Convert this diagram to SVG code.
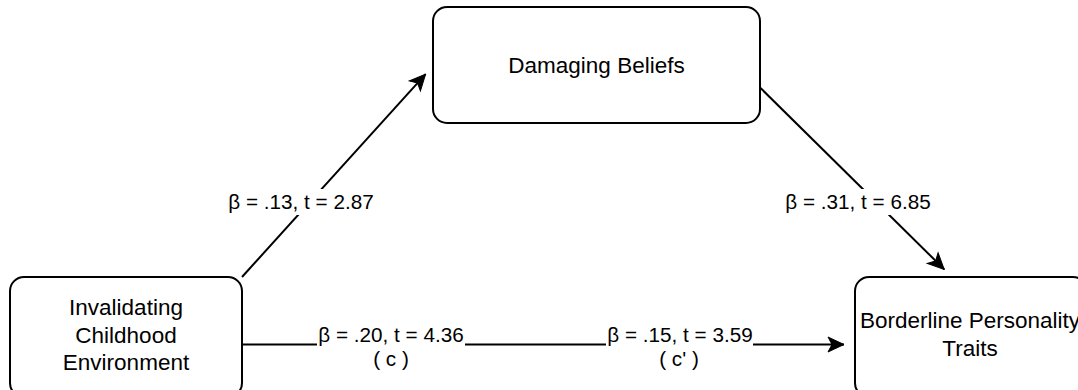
<svg xmlns="http://www.w3.org/2000/svg" width="1078" height="390" viewBox="0 0 1078 390">
<style>
.box{fill:#ffffff;stroke:#000000;stroke-width:2}
.edge{fill:none;stroke:#000000;stroke-width:2}
.nt{font-family:"Liberation Sans",Arial,Helvetica,sans-serif;font-size:22.5px;fill:#000000;text-anchor:middle}
.lt{font-family:"Liberation Sans",Arial,Helvetica,sans-serif;font-size:20.7px;fill:#000000;text-anchor:middle}
.bg{fill:#ffffff;stroke:none}
</style>
<defs>
<marker id="arr" viewBox="-18 -9 19 18" refX="0" refY="0" markerWidth="19" markerHeight="18" markerUnits="userSpaceOnUse" orient="auto">
<path d="M0,0 L-16,-7.5 L-12,0 L-16,7.5 Z" fill="#000000" stroke="#000000" stroke-width="1" stroke-linejoin="miter"/>
</marker>
</defs>
<rect width="1078" height="390" fill="#ffffff"/>
<g id="connectors">
<g id="edge-ice-db">
<path class="edge" d="M242,277 L425.6,74.1" marker-end="url(#arr)"/>
<rect class="bg" x="226" y="189" width="151" height="26"/>
<text class="lt" x="301" y="209">β = .13, t = 2.87</text>
</g>
<g id="edge-db-bpt">
<path class="edge" d="M760,87.5 L944.2,269.3" marker-end="url(#arr)"/>
<rect class="bg" x="783" y="189" width="150" height="26"/>
<text class="lt" x="858" y="209">β = .31, t = 6.85</text>
</g>
<g id="edge-ice-bpt">
<path class="edge" d="M242,344.5 L844,344.5" marker-end="url(#arr)"/>
<rect class="bg" x="317" y="330" width="148" height="42"/>
<text class="lt" x="391" y="342">β = .20, t = 4.36</text>
<text class="lt" x="391" y="366">( c )</text>
<rect class="bg" x="606" y="330" width="147" height="42"/>
<text class="lt" x="680" y="342">β = .15, t = 3.59</text>
<text class="lt" x="679" y="366">( c' )</text>
</g>
</g>
<g id="node-damaging-beliefs">
<rect class="box" x="433" y="7" width="327" height="116" rx="14" ry="14"/>
<text class="nt" x="596.5" y="73">Damaging Beliefs</text>
</g>
<g id="node-invalidating">
<rect class="box" x="10" y="277" width="232" height="120" rx="14" ry="14"/>
<text class="nt" x="126" y="315">Invalidating</text>
<text class="nt" x="126" y="342.5">Childhood</text>
<text class="nt" x="126" y="370">Environment</text>
</g>
<g id="node-borderline">
<rect class="box" x="855" y="277" width="232" height="120" rx="14" ry="14"/>
<text class="nt" x="970" y="328">Borderline Personality</text>
<text class="nt" x="970" y="356">Traits</text>
</g>
</svg>
